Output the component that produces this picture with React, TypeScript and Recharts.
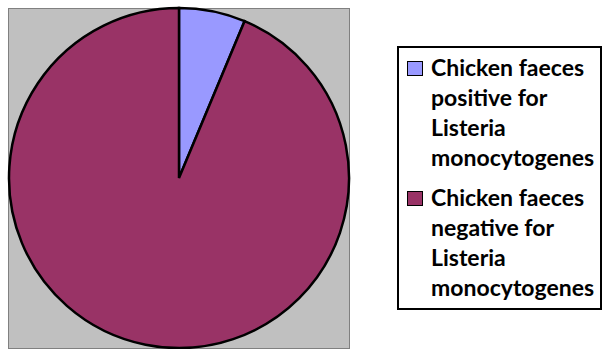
import React from "react";
import { PieChart, Pie, Cell } from "recharts";

const labels = [
  "Chicken faeces positive for Listeria monocytogenes",
  "Chicken faeces negative for Listeria monocytogenes",
];
const shares = [6.3, 93.7];
const colors = ["#9999FF", "#993366"];

const data = labels.map((name, i) => ({ name, value: shares[i] }));

const LegendBox = () => (
  <div
    style={{
      position: "absolute",
      left: 397,
      top: 46,
      width: 205,
      height: 264,
      boxSizing: "border-box",
      border: "2px solid #000",
      background: "#fff",
      padding: "4px 0 0 8px",
      fontFamily: "Lato, sans-serif",
      fontWeight: 700,
      fontSize: 23,
      lineHeight: "30px",
      color: "#000",
    }}
  >
    {labels.map((label, i) => (
      <div key={label} style={{ display: "flex", marginTop: i === 0 ? 0 : 10 }}>
        <div
          style={{
            width: 16,
            height: 15,
            boxSizing: "border-box",
            border: "1.5px solid #000",
            background: colors[i],
            marginTop: 9,
            marginRight: 8,
            flexShrink: 0,
          }}
        />
        <div style={{ width: 172 }}>{label}</div>
      </div>
    ))}
  </div>
);

export default function App() {
  return (
    <div style={{ position: "fixed", left: 0, top: 0, width: 602, height: 349, background: "#fff", overflow: "hidden" }}>
      <div
        style={{
          position: "absolute",
          left: 8,
          top: 8,
          width: 342,
          height: 341,
          boxSizing: "border-box",
          background: "#C0C0C0",
          border: "1.5px solid #808080",
        }}
      />
      <div style={{ position: "absolute", left: 0, top: 0 }}>
        <PieChart width={360} height={349} margin={{ top: 0, right: 0, bottom: 0, left: 0 }}>
          <Pie
            data={data}
            dataKey="value"
            nameKey="name"
            cx={179}
            cy={178}
            outerRadius={170}
            startAngle={90}
            endAngle={-270}
            stroke="#000"
            strokeWidth={2.5}
            isAnimationActive={false}
          >
            {data.map((d, i) => (
              <Cell key={d.name} fill={colors[i]} />
            ))}
          </Pie>
        </PieChart>
      </div>
      <LegendBox />
    </div>
  );
}
